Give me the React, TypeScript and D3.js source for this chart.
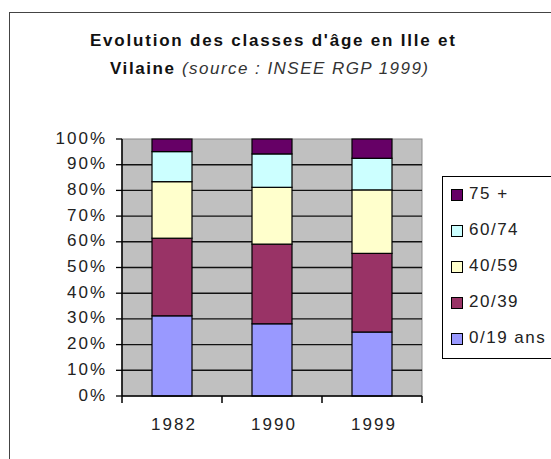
import React, { useEffect, useRef } from "react";
import * as d3 from "d3";

// years on the x axis
const years = ["1982", "1990", "1999"];
// age classes, bottom to top
const classes = ["0/19 ans", "20/39", "40/59", "60/74", "75 +"];
// shares (%) per class, one value per year
const age0_19 = [31.2, 28.1, 24.9];
const age20_39 = [30.2, 31.0, 30.6];
const age40_59 = [22.0, 22.1, 24.7];
const age60_74 = [11.7, 13.0, 12.3];
const age75 = [4.9, 5.8, 7.5];
const yTicks = [0, 10, 20, 30, 40, 50, 60, 70, 80, 90, 100];

const colors = ["#9999ff", "#993366", "#ffffcc", "#ccffff", "#660066"];
const FONT = "'Liberation Sans', Arial, sans-serif";

const App = () => {
  const svgRef = useRef<SVGSVGElement>(null);

  useEffect(() => {
    if (!svgRef.current) return;
    const svg = d3.select(svgRef.current);
    svg.selectAll("*").remove();

    const series = [age0_19, age20_39, age40_59, age60_74, age75];
    const rows = years.map((y, i) => {
      const r: any = { year: y };
      classes.forEach((c, k) => (r[c] = series[k][i]));
      return r;
    });
    const stacked = d3.stack().keys(classes)(rows);

    const plot = { left: 122, right: 422, top: 139, bottom: 396 };

    const x = d3
      .scaleBand()
      .domain(years)
      .range([plot.left, plot.right])
      .paddingInner(0.6)
      .paddingOuter(0.3);
    const xTicks = d3
      .scaleBand()
      .domain(years)
      .range([plot.left, plot.right]);
    const y = d3.scaleLinear().domain([0, 100]).range([plot.bottom, plot.top]);

    // outer frame
    svg
      .append("rect")
      .attr("x", 9.5)
      .attr("y", 12.5)
      .attr("width", 600)
      .attr("height", 500)
      .attr("fill", "#fff")
      .attr("stroke", "#444");

    // title
    svg
      .append("text")
      .attr("x", 90)
      .attr("y", 46)
      .attr("textLength", 365)
      .attr("lengthAdjust", "spacing")
      .style("font", `bold 17px ${FONT}`)
      .attr("fill", "#111")
      .text("Evolution des classes d'âge en Ille et");
    svg
      .append("text")
      .attr("x", 110)
      .attr("y", 74)
      .attr("textLength", 64)
      .attr("lengthAdjust", "spacing")
      .style("font", `bold 17px ${FONT}`)
      .attr("fill", "#111")
      .text("Vilaine");
    svg
      .append("text")
      .attr("x", 182)
      .attr("y", 74)
      .attr("textLength", 246)
      .attr("lengthAdjust", "spacing")
      .style("font", `italic 17px ${FONT}`)
      .attr("fill", "#333")
      .text("(source : INSEE RGP 1999)");

    // plot background
    svg
      .append("rect")
      .attr("x", plot.left)
      .attr("y", plot.top)
      .attr("width", plot.right - plot.left)
      .attr("height", plot.bottom - plot.top)
      .attr("fill", "#c0c0c0")
      .attr("stroke", "#8a8a8a");

    // grid lines
    svg
      .append("g")
      .selectAll("line")
      .data(yTicks.filter((t) => t > 0 && t < 100))
      .join("line")
      .attr("x1", plot.left)
      .attr("x2", plot.right)
      .attr("y1", (d) => y(d))
      .attr("y2", (d) => y(d))
      .attr("stroke", "#111")
      .attr("stroke-width", 1.4);

    // bars
    svg
      .append("g")
      .selectAll("g")
      .data(stacked)
      .join("g")
      .attr("fill", (d, i) => colors[i])
      .selectAll("rect")
      .data((d) => d)
      .join("rect")
      .attr("x", (d: any) => x(d.data.year)!)
      .attr("width", x.bandwidth())
      .attr("y", (d) => y(d[1]))
      .attr("height", (d) => y(d[0]) - y(d[1]))
      .attr("stroke", "#000")
      .attr("stroke-width", 1.2);

    // y axis
    const yAxis = svg.append("g");
    yAxis
      .append("line")
      .attr("x1", plot.left)
      .attr("x2", plot.left)
      .attr("y1", plot.top)
      .attr("y2", plot.bottom)
      .attr("stroke", "#000")
      .attr("stroke-width", 1.5);
    yAxis
      .selectAll("line.tick")
      .data(yTicks)
      .join("line")
      .attr("class", "tick")
      .attr("x1", plot.left - 6)
      .attr("x2", plot.left)
      .attr("y1", (d) => y(d))
      .attr("y2", (d) => y(d))
      .attr("stroke", "#000")
      .attr("stroke-width", 1.3);
    yAxis
      .selectAll("text")
      .data(yTicks)
      .join("text")
      .attr("x", 107)
      .attr("y", (d) => y(d) + 4.5)
      .attr("text-anchor", "end")
      .style("font", `17px ${FONT}`)
      .style("letter-spacing", "2px")
      .attr("fill", "#222")
      .text((d) => `${d}%`);

    // x axis
    const xAxis = svg.append("g");
    xAxis
      .append("line")
      .attr("x1", plot.left)
      .attr("x2", plot.right)
      .attr("y1", plot.bottom)
      .attr("y2", plot.bottom)
      .attr("stroke", "#000")
      .attr("stroke-width", 1.5);
    xAxis
      .selectAll("line.tick")
      .data([...years.map((d) => xTicks(d)!), plot.right])
      .join("line")
      .attr("class", "tick")
      .attr("x1", (d) => d)
      .attr("x2", (d) => d)
      .attr("y1", plot.bottom)
      .attr("y2", plot.bottom + 7)
      .attr("stroke", "#000")
      .attr("stroke-width", 1.5);
    xAxis
      .selectAll("text")
      .data(years)
      .join("text")
      .attr("x", (d) => x(d)! + x.bandwidth() / 2 + 2)
      .attr("y", 430)
      .attr("text-anchor", "middle")
      .style("font", `17px ${FONT}`)
      .style("letter-spacing", "2px")
      .attr("fill", "#222")
      .text((d) => d);

    // legend
    const legend = svg.append("g");
    legend
      .append("rect")
      .attr("x", 442.5)
      .attr("y", 176.5)
      .attr("width", 200)
      .attr("height", 182)
      .attr("fill", "#fff")
      .attr("stroke", "#000");
    const items = classes.slice().reverse();
    const ly = d3.scalePoint().domain(items).range([199, 343]);
    const li = legend
      .selectAll("g")
      .data(items)
      .join("g")
      .attr("transform", (d) => `translate(0,${ly(d)})`);
    li.append("rect")
      .attr("x", 451.5)
      .attr("y", -9.5)
      .attr("width", 11)
      .attr("height", 11)
      .attr("fill", (d) => colors[classes.indexOf(d)])
      .attr("stroke", "#000");
    li.append("text")
      .attr("x", 469)
      .attr("y", 0)
      .style("font", `17px ${FONT}`)
      .style("letter-spacing", "1.5px")
      .attr("fill", "#222")
      .text((d) => d);
  }, []);

  return (
    <svg
      ref={svgRef}
      width={551}
      height={459}
      style={{ position: "absolute", left: 0, top: 0, background: "#fff" }}
    />
  );
};

export default App;
